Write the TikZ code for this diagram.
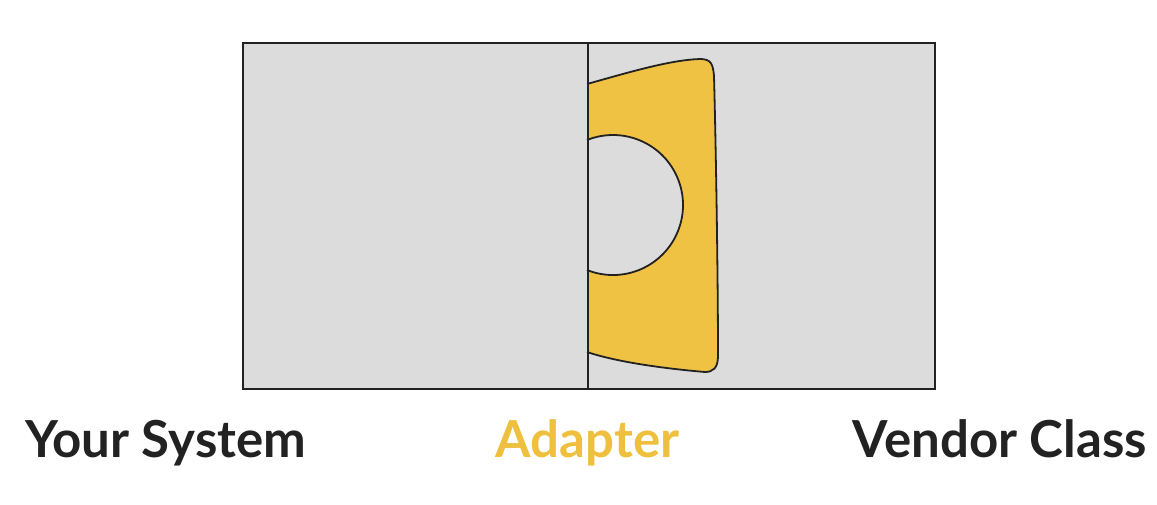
\documentclass[tikz,border=0pt]{standalone}
\usepackage{fontspec}
\setmainfont{Lato}
\definecolor{boxgray}{HTML}{DCDCDC}
\definecolor{adaptyellow}{HTML}{F0C244}
\definecolor{adapttext}{HTML}{EEC03E}
\definecolor{ink}{HTML}{222222}
\begin{document}
\begin{tikzpicture}[x=1pt,y=-1pt,
  adapterline/.style={draw=ink,line width=1.8pt,line join=round},
  labelstyle/.style={font=\fontsize{51}{53}\selectfont\bfseries,text=ink,inner sep=0pt}]
\useasboundingbox (0,0) rectangle (1157,504);
\fill[white] (0,0) rectangle (1157,504);
% boxes
\fill[boxgray] (242,42) rectangle (934,388);
% adapter shape fill
\fill[adaptyellow] (587,84) .. controls (630,72) and (670,60) .. (700,59)
  .. controls (711,59) and (713,64) .. (714,76)
  .. controls (716,150) and (718,280) .. (718,356)
  .. controls (718,368) and (713,372) .. (705,372)
  .. controls (670,369) and (620,363) .. (587,352)
  -- (587,270) arc[start angle=-111.8,end angle=111.8,radius=70pt] -- cycle;
% adapter outline
\draw[adapterline] (587,84) .. controls (630,72) and (670,60) .. (700,59)
  .. controls (711,59) and (713,64) .. (714,76)
  .. controls (716,150) and (718,280) .. (718,356)
  .. controls (718,368) and (713,372) .. (705,372)
  .. controls (670,369) and (620,363) .. (587,352);
\draw[adapterline] (587,270) arc[start angle=-111.8,end angle=111.8,radius=70pt];
\node[draw=ink,line width=2.2pt,minimum width=345pt,minimum height=346pt,inner sep=0pt,anchor=north west] (sys) at (242,42) {};
\node[draw=ink,line width=2.2pt,minimum width=347pt,minimum height=346pt,inner sep=0pt,anchor=north west] (vendor) at (587,42) {};
% labels
\node[labelstyle,anchor=base west] (l1) at (25,457) {Your System};
\node[labelstyle,anchor=base,text=adapttext] (l2) at (587.5,457) {Adapter};
\node[labelstyle,anchor=base east] (l3) at (1147,457) {Vendor Class};
\end{tikzpicture}
\end{document}
